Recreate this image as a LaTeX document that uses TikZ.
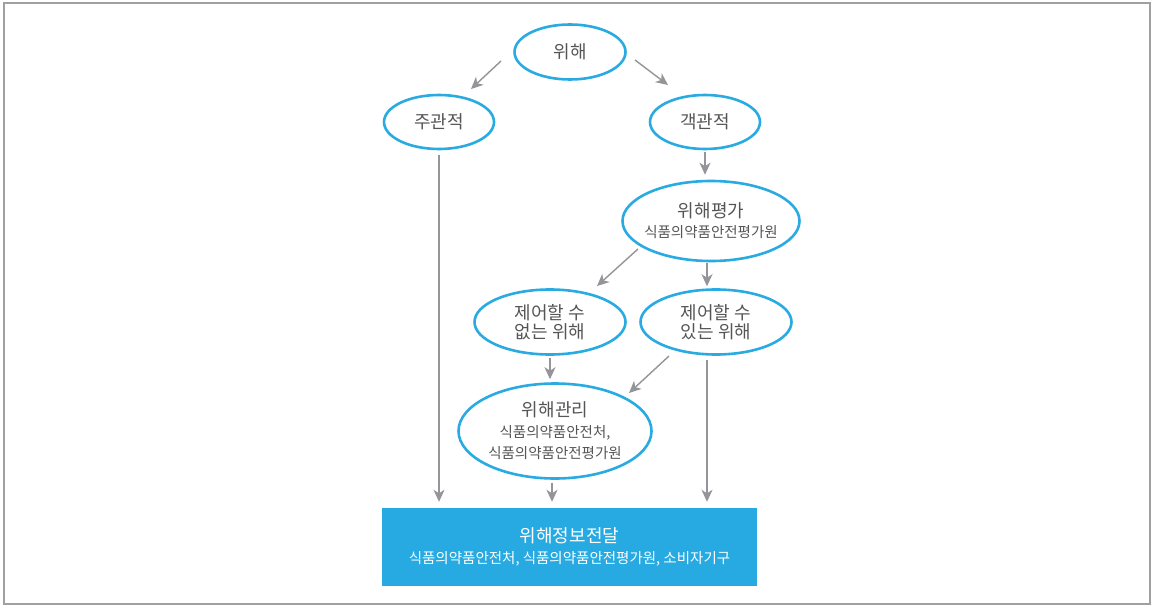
\documentclass[tikz,border=0pt]{standalone}
\usepackage{fontspec}
\setmainfont{Noto Sans CJK KR}
\usetikzlibrary{arrows.meta,shapes.geometric}
\definecolor{ebl}{HTML}{29ABE2}
\definecolor{boxbl}{HTML}{27AAE1}
\definecolor{agr}{HTML}{939598}
\definecolor{txt}{HTML}{555555}
\definecolor{frm}{HTML}{A0A0A0}
\newcommand{\hbig}{\fontsize{18}{22}\selectfont}
\newcommand{\hsml}{\fontsize{14.5}{21}\selectfont}
\begin{document}
\begin{tikzpicture}[x=1pt,y=-1pt,
  el/.style={ellipse,draw=ebl,line width=2.6pt,inner sep=0pt,text=txt,align=center,font=\hbig},
  ar/.style={draw=agr,line width=1.4pt,-{Stealth[length=12pt,width=11pt,inset=3.5pt]}},
]
\useasboundingbox (0,0) rectangle (1153,607);
\fill[white] (0,0) rectangle (1153,607);
\draw[frm,line width=1.2pt] (4,3) rectangle (1150,604);

\node[el,minimum width=111,minimum height=55] (wh) at (570,52) {위해};
\node[el,minimum width=110,minimum height=54] (jg) at (439,122) {주관적};
\node[el,minimum width=110,minimum height=54] (gk) at (705,122) {객관적};
\node[el,minimum width=177,minimum height=80,inner xsep=-10pt,inner ysep=-4pt] (pg) at (711,221) {위해평가\\[-2pt]{\hsml 식품의약품안전평가원}};
\node[el,minimum width=151,minimum height=65] (no) at (550,322) {제어할 수\\[-3pt]없는 위해};
\node[el,minimum width=151,minimum height=65] (yes) at (716,322) {제어할 수\\[-3pt]있는 위해};
\node[el,minimum width=193,minimum height=95,inner xsep=-6pt,inner ysep=-6pt] (wg) at (555,431) {위해관리\\[-1pt]{\hsml 식품의약품안전처,}\\[-1pt]{\hsml 식품의약품안전평가원}};
\node[rectangle,fill=boxbl,minimum width=375,minimum height=78,inner sep=0pt,text=white,align=center,font=\hbig] (box) at (569.5,547) {위해정보전달\\[-1pt]{\hsml 식품의약품안전처, 식품의약품안전평가원, 소비자기구}};

\coordinate (a1s) at (501,61);
\coordinate (a1e) at (471,89);
\coordinate (a2s) at (635,60);
\coordinate (a2e) at (668,85);
\coordinate (a3s) at (638,249);
\coordinate (a3e) at (597,286);
\coordinate (a4s) at (669,356);
\coordinate (a4e) at (629,393);
\coordinate (vy) at (707,0);

\draw[ar] (a1s) -- (a1e);
\draw[ar] (a2s) -- (a2e);
\draw[ar,shorten <=5pt,shorten >=6pt] (jg.south) -- (jg.south |- box.north);
\draw[ar,shorten <=2pt,shorten >=5pt] (gk.south) -- (gk.south |- pg.north);
\draw[ar] (a3s) -- (a3e);
\draw[ar,shorten <=1pt,shorten >=2pt] (vy |- pg.south) -- (vy |- yes.north);
\draw[ar,shorten <=2pt,shorten >=3pt] (no.south) -- (no.south |- wg.north);
\draw[ar] (a4s) -- (a4e);
\draw[ar,shorten <=4pt,shorten >=6pt] (vy |- yes.south) -- (vy |- box.north);
\draw[ar,shorten <=3pt,shorten >=6pt] ([xshift=-3pt]wg.south) -- ([xshift=-3pt]wg.south |- box.north);
\end{tikzpicture}
\end{document}
